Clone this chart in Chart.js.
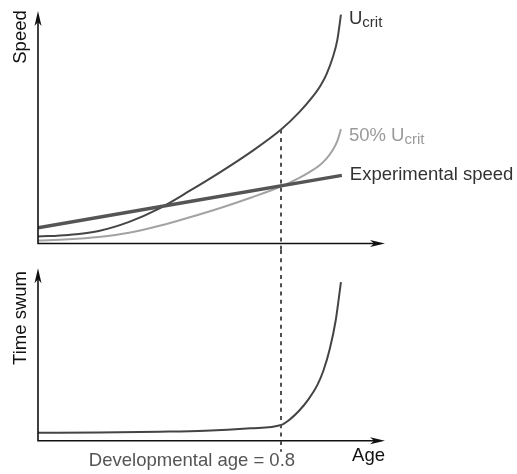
<!DOCTYPE html>
<html>
<head>
<meta charset="utf-8">
<script src="https://cdn.jsdelivr.net/npm/chart.js@4.4.0/dist/chart.umd.min.js"></script>
<style>
  html, body { margin: 0; padding: 0; background: #fff; }
  #wrap { position: relative; width: 517px; height: 474px; }
  canvas { position: absolute; left: 0; }
</style>
</head>
<body>
<div id="wrap">
  <canvas id="speedChart" width="517" height="250" style="top:0"></canvas>
  <canvas id="timeChart" width="517" height="224" style="top:250px"></canvas>
</div>
<script>
// developmental age (0..1) and speeds, arbitrary units (axis top = 100)
const ageSpeed = [0, 0.1, 0.2, 0.3, 0.4, 0.5, 0.6, 0.7, 0.8, 0.86, 0.9, 0.93, 0.95, 0.97, 0.985, 0.997];
const ucrit = [3.0, 3.7, 5.4, 9.3, 15.1, 22.7, 30.7, 39.3, 49.0, 56.5, 62.5, 68.0, 73.0, 80.0, 87.5, 98.4];
const halfUcrit = [1.3, 1.8, 2.8, 4.6, 7.6, 11.3, 15.3, 19.7, 24.5, 28.2, 31.2, 34.0, 36.6, 40.2, 44.0, 49.2];
const ageExperimental = [0, 1];
const experimentalSpeed = [6.8, 29.3];

// time swum at the experimental speed
const ageTime = [0, 0.2, 0.4, 0.55, 0.7, 0.8, 0.83, 0.86, 0.89, 0.92, 0.94, 0.96, 0.98, 0.997];
const timeSwum = [4.6, 4.7, 5.2, 5.8, 7.2, 9.1, 12.5, 17.5, 24, 32.5, 41, 53, 70, 92];

const developmentalAge = 0.8;

const FONT = '"Liberation Sans", Arial, Helvetica, sans-serif';

function toPoints(xs, ys) {
    return xs.map((x, i) => ({x: x, y: ys[i]}));
}

// plain axes with arrow heads
const arrowAxes = {
    id: 'arrowAxes',
    afterDatasetsDraw(chart) {
        const ctx = chart.ctx;
        const xs = chart.scales.x, ys = chart.scales.y;
        const left = xs.getPixelForValue(xs.min), right = xs.getPixelForValue(xs.max);
        const bottom = ys.getPixelForValue(ys.min), top = ys.getPixelForValue(ys.max);
        ctx.save();
        ctx.strokeStyle = '#111';
        ctx.fillStyle = '#111';
        ctx.lineWidth = 1.6;
        ctx.beginPath();
        ctx.moveTo(left, top + 8);
        ctx.lineTo(left, bottom);
        ctx.lineTo(right - 8, bottom);
        ctx.stroke();
        // x arrow
        ctx.beginPath();
        ctx.moveTo(right, bottom);
        ctx.lineTo(right - 15, bottom - 3.5);
        ctx.lineTo(right - 11, bottom);
        ctx.lineTo(right - 15, bottom + 3.5);
        ctx.closePath();
        ctx.fill();
        // y arrow
        ctx.beginPath();
        ctx.moveTo(left, top);
        ctx.lineTo(left - 3.5, top + 15);
        ctx.lineTo(left, top + 11);
        ctx.lineTo(left + 3.5, top + 15);
        ctx.closePath();
        ctx.fill();
        ctx.restore();
    }
};

// vertical dashed marker at the developmental age
function drawMarker(chart, yTop, yBottom) {
    const ctx = chart.ctx;
    const x = Math.round(chart.scales.x.getPixelForValue(developmentalAge));
    ctx.save();
    ctx.strokeStyle = '#505050';
    ctx.lineWidth = 2;
    ctx.setLineDash([4, 4.3]);
    ctx.beginPath();
    ctx.moveTo(x, yTop);
    ctx.lineTo(x, yBottom);
    ctx.stroke();
    ctx.restore();
}

function drawRotated(ctx, text, x, y) {
    ctx.save();
    ctx.translate(x, y);
    ctx.rotate(-Math.PI / 2);
    ctx.textAlign = 'center';
    ctx.textBaseline = 'alphabetic';
    ctx.fillText(text, 0, 0);
    ctx.restore();
}

// labels written after the last point of a dataset
const endLabels = {
    id: 'endLabels',
    afterDatasetsDraw(chart) {
        const ctx = chart.ctx;
        chart.data.datasets.forEach((ds, i) => {
            if (!ds.endLabel) return;
            const pts = chart.getDatasetMeta(i).data;
            const p = pts[pts.length - 1];
            let x = p.x + 8;
            const base = p.y + ds.endLabel.dy;
            ctx.save();
            ctx.fillStyle = ds.endLabel.color;
            ctx.textBaseline = 'alphabetic';
            ds.endLabel.parts.forEach(part => {
                ctx.font = (part.sub ? '15px ' : '18.5px ') + FONT;
                ctx.fillText(part.text, x, base + (part.sub ? 3 : 0));
                x += ctx.measureText(part.text).width;
            });
            ctx.restore();
        });
    }
};

const speedExtras = {
    id: 'speedExtras',
    afterDatasetsDraw(chart) {
        const ys = chart.scales.y;
        const at = ucrit[ageSpeed.indexOf(developmentalAge)];
        drawMarker(chart, ys.getPixelForValue(at), chart.height);
        const ctx = chart.ctx;
        ctx.save();
        ctx.fillStyle = '#111';
        ctx.font = '18.5px ' + FONT;
        drawRotated(ctx, 'Speed', 26, 37);
        ctx.restore();
    }
};

const timeExtras = {
    id: 'timeExtras',
    afterDatasetsDraw(chart) {
        const xs = chart.scales.x, ys = chart.scales.y;
        const axisY = ys.getPixelForValue(ys.min);
        drawMarker(chart, 0, axisY + 11);
        const ctx = chart.ctx;
        ctx.save();
        ctx.font = '18.5px ' + FONT;
        ctx.fillStyle = '#111';
        drawRotated(ctx, 'Time swum', 26, 68);
        ctx.textAlign = 'right';
        ctx.fillText('Age', xs.getPixelForValue(xs.max), axisY + 20);
        ctx.fillStyle = '#555';
        ctx.fillText('Developmental age = 0.8', xs.getPixelForValue(developmentalAge) + 14, axisY + 25);
        ctx.restore();
    }
};

function baseOptions(padding) {
    return {
        responsive: false,
        animation: false,
        layout: {padding: padding},
        plugins: {legend: {display: false}, tooltip: {enabled: false}},
        elements: {point: {radius: 0}, line: {cubicInterpolationMode: 'monotone'}},
        scales: {
            x: {type: 'linear', min: 0, max: 1.142, display: false},
            y: {type: 'linear', min: 0, max: 100, display: false}
        }
    };
}

new Chart(document.getElementById('speedChart').getContext('2d'), {
    type: 'line',
    data: {
        datasets: [
            {
                label: 'Experimental speed',
                data: toPoints(ageExperimental, experimentalSpeed),
                borderColor: '#555',
                borderWidth: 3.5,
                order: 0,
                endLabel: {parts: [{text: 'Experimental speed'}], dy: 4.5, color: '#333'}
            },
            {
                label: 'Ucrit',
                data: toPoints(ageSpeed, ucrit),
                borderColor: '#454545',
                borderWidth: 2,
                order: 1,
                endLabel: {parts: [{text: 'U'}, {text: 'crit', sub: true}], dy: 9.5, color: '#333'}
            },
            {
                label: '50% Ucrit',
                data: toPoints(ageSpeed, halfUcrit),
                borderColor: '#a3a3a3',
                borderWidth: 2,
                order: 2,
                endLabel: {parts: [{text: '50% U'}, {text: 'crit', sub: true}], dy: 11.5, color: '#9a9a9a'}
            }
        ]
    },
    options: baseOptions({left: 38, right: 132, top: 11, bottom: 6.5}),
    plugins: [arrowAxes, speedExtras, endLabels]
});

new Chart(document.getElementById('timeChart').getContext('2d'), {
    type: 'line',
    data: {
        datasets: [{
            label: 'Time swum',
            data: toPoints(ageTime, timeSwum),
            borderColor: '#444',
            borderWidth: 2
        }]
    },
    options: baseOptions({left: 38, right: 132, top: 18.3, bottom: 33.3}),
    plugins: [arrowAxes, timeExtras]
});
</script>
</body>
</html>
